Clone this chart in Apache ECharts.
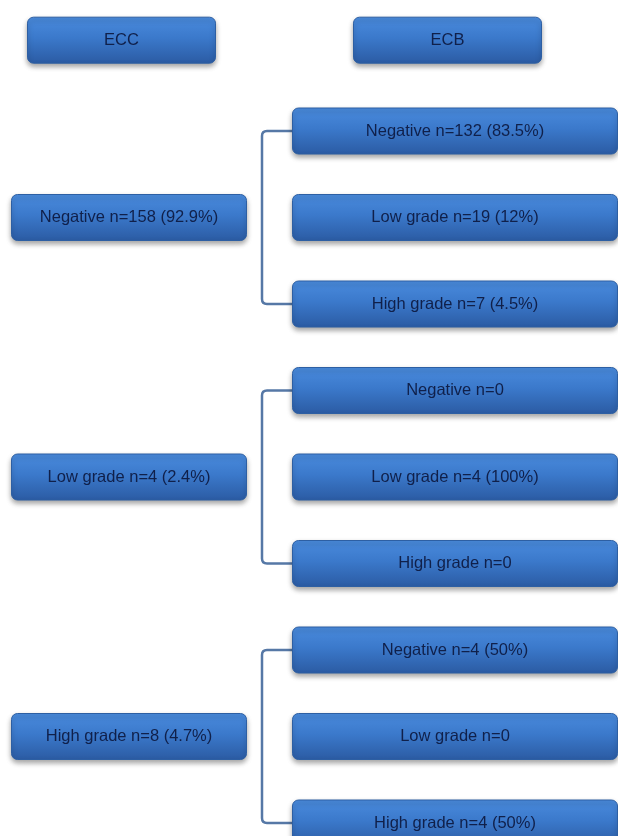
<!DOCTYPE html>
<html>
<head>
<meta charset="utf-8">
<script src="https://cdn.jsdelivr.net/npm/echarts@6/dist/echarts.min.js"></script>
<style>
  html, body { margin: 0; padding: 0; background: #ffffff; }
  #chart { width: 618px; height: 836px; }
</style>
</head>
<body>
<div id="chart"></div>
<script>
// ---------------- data ----------------
const columns = ['ECC', 'ECB'];
const grades = ['Negative', 'Low grade', 'High grade'];
const eccCounts = [158, 4, 8];
const eccPercents = [92.9, 2.4, 4.7];
const ecbCounts = [[132, 19, 7], [0, 4, 0], [4, 0, 4]];
const ecbPercents = [[83.5, 12, 4.5], [null, 100, null], [50, null, 50]];

// ---------------- helpers ----------------
function makeLabel(grade, n, pct) {
  return grade + ' n=' + n + (pct == null ? '' : ' (' + pct + '%)');
}

// layout (axis units: x = column index, y = row slot)
const HEADER_SLOT = -1.05;
const FONT = '"Liberation Sans", Arial, "Noto Sans", sans-serif';
const TEXT_COLOR = '#10204a';

const headerData = columns.map((c, i) => [i, HEADER_SLOT, c]);
const eccData = grades.map((g, gi) => [0, gi * 3 + 1, makeLabel(g, eccCounts[gi], eccPercents[gi])]);
const ecbData = [];
grades.forEach((pg, gi) => {
  grades.forEach((g, j) => {
    ecbData.push([1, gi * 3 + j, makeLabel(g, ecbCounts[gi][j], ecbPercents[gi][j])]);
  });
});
const connectorData = grades.map((g, gi) => [1, gi * 3, gi * 3 + 2]);

const boxFill = {
  type: 'linear', x: 0, y: 0, x2: 0, y2: 1,
  colorStops: [
    { offset: 0, color: '#4a8bdd' },
    { offset: 0.45, color: '#3b79cb' },
    { offset: 1, color: '#2b5ba3' }
  ]
};

function boxRenderer(halfW, halfH, dx) {
  return function (params, api) {
    const p = api.coord([api.value(0), api.value(1)]);
    const cx = p[0] + (dx || 0);
    const cy = p[1];
    return {
      type: 'group',
      children: [
        {
          type: 'rect',
          shape: { x: cx - halfW, y: cy - halfH, width: halfW * 2, height: halfH * 2, r: 6 },
          style: {
            fill: boxFill,
            stroke: '#2d5fa3',
            lineWidth: 1,
            shadowBlur: 5,
            shadowOffsetY: 3,
            shadowColor: 'rgba(0,0,0,0.35)'
          }
        },
        {
          type: 'text',
          style: {
            text: api.value(2),
            x: cx,
            y: cy,
            align: 'center',
            verticalAlign: 'middle',
            fill: TEXT_COLOR,
            fontSize: 16.5,
            fontFamily: FONT
          }
        }
      ]
    };
  };
}

function connectorRenderer(params, api) {
  const top = api.coord([api.value(0), api.value(1)]);
  const bot = api.coord([api.value(0), api.value(2)]);
  const x1 = top[0] - 162;      // left edge of child boxes
  const x0 = x1 - 31;           // vertical bracket line
  const y1 = top[1], y2 = bot[1], r = 5;
  const d = 'M' + x1 + ' ' + y1 + ' L' + (x0 + r) + ' ' + y1 +
            ' Q' + x0 + ' ' + y1 + ' ' + x0 + ' ' + (y1 + r) +
            ' L' + x0 + ' ' + (y2 - r) +
            ' Q' + x0 + ' ' + y2 + ' ' + (x0 + r) + ' ' + y2 +
            ' L' + x1 + ' ' + y2;
  return {
    type: 'path',
    shape: { pathData: d, layout: 'cover', x: x0, y: y1, width: x1 - x0, height: y2 - y1 },
    style: { fill: null, stroke: '#5678a6', lineWidth: 2.5 }
  };
}

const chart = echarts.init(document.getElementById('chart'), null, { renderer: 'canvas' });
chart.setOption({
  backgroundColor: '#ffffff',
  animation: false,
  grid: { left: 129, right: 163, top: 131, bottom: 13 },
  xAxis: { type: 'value', min: 0, max: 1, show: false },
  yAxis: { type: 'value', min: 0, max: 8, inverse: true, show: false },
  series: [
    { type: 'custom', data: connectorData, renderItem: connectorRenderer, clip: false, z: 1 },
    { type: 'custom', data: headerData, renderItem: boxRenderer(94, 23, -7.5), clip: false, z: 2 },
    { type: 'custom', data: eccData, renderItem: boxRenderer(117.5, 23), clip: false, z: 2 },
    { type: 'custom', data: ecbData, renderItem: boxRenderer(162.5, 23), clip: false, z: 2 }
  ]
});
</script>
</body>
</html>
